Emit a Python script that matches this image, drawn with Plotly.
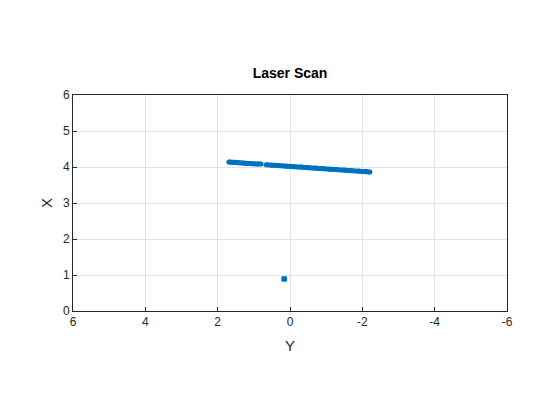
import plotly.graph_objects as go

# Laser scan points (Y = horizontal, X = vertical)
scan_y = [1.69, 1.60, 1.50, 1.40, 1.30, 1.20, 1.10, 1.00, 0.90, 0.80, None,
          0.66, 0.50, 0.30, 0.10, -0.10, -0.30, -0.50, -0.70, -0.90, -1.10,
          -1.30, -1.50, -1.70, -1.90, -2.10, -2.21]
scan_x = [4.14, 4.13, 4.13, 4.12, 4.11, 4.10, 4.10, 4.09, 4.08, 4.08, None,
          4.06, 4.05, 4.04, 4.02, 4.01, 4.00, 3.98, 3.97, 3.96, 3.94,
          3.93, 3.92, 3.90, 3.89, 3.88, 3.86]
pt_y = [0.17, 0.15]
pt_x = [0.89, 0.89]

x_ticks = [6, 4, 2, 0, -2, -4, -6]
x_tick_text = ["6", "4", "2", "0", "-2", "-4", "-6"]
y_ticks = [0, 1, 2, 3, 4, 5, 6]

color = "#0072BD"
fig = go.Figure()
fig.add_trace(go.Scatter(x=scan_y, y=scan_x, mode="lines+markers",
                         line=dict(color=color, width=5),
                         marker=dict(color=color, size=5),
                         connectgaps=False, showlegend=False))
fig.add_trace(go.Scatter(x=pt_y, y=pt_x, mode="lines+markers",
                         line=dict(color=color, width=4),
                         marker=dict(color=color, size=5, symbol="square"),
                         showlegend=False))

axis_common = dict(showgrid=True, gridcolor="#E3E3E3", gridwidth=1,
                   showline=True, linecolor="#262626", linewidth=1, mirror=True,
                   ticks="inside", ticklen=4, tickcolor="#262626",
                   zeroline=False,
                   tickfont=dict(family="Liberation Sans, Arial", size=12, color="#262626"),
                   title_font=dict(family="Liberation Sans, Arial", size=15, color="#262626"))

fig.update_layout(
    width=560, height=420,
    margin=dict(l=65, r=61, t=87, b=117),
    paper_bgcolor="white", plot_bgcolor="white",
    title=dict(text="<b>Laser Scan</b>", x=282 / 560, xanchor="center",
               y=1 - 65 / 420, yanchor="middle",
               font=dict(family="Liberation Sans, Arial", size=14, color="black")),
    xaxis=dict(range=[6, -6], tickvals=x_ticks, ticktext=x_tick_text,
               title=dict(text="Y", standoff=12), **axis_common),
    yaxis=dict(range=[0, 6], tickvals=y_ticks, title=dict(text="X", standoff=6), **axis_common),
)

fig.write_html("out.html")
